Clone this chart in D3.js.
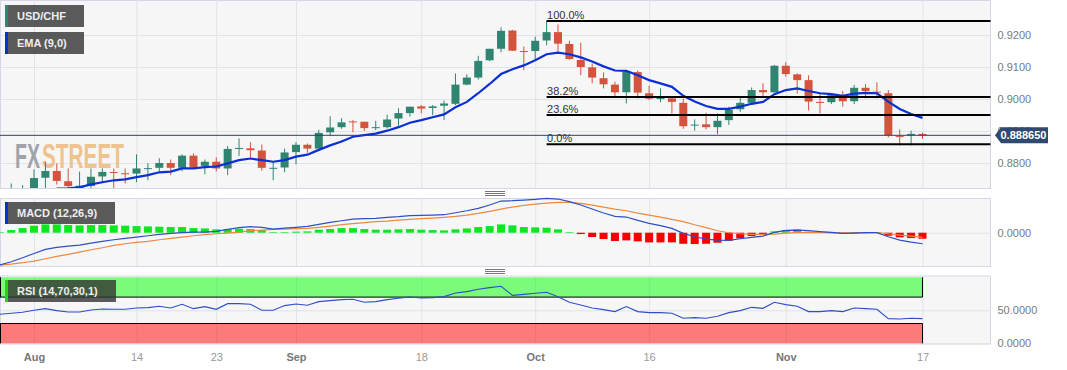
<!DOCTYPE html>
<html>
<head>
<meta charset="utf-8">
<script src="https://cdn.jsdelivr.net/npm/d3@7"></script>
<style>
body{margin:0;background:#fff;}
text{font-family:"Liberation Sans",Arial,sans-serif;}
</style>
</head>
<body>
<svg id="chart" width="1067" height="370"></svg>
<script>
// bar index 0 is the first August session, candles start 2 bars before that
const candleStart = -2;
const opens = [.8700,.8705,.8710,.8754,.8775,.8743,.8715,.8728,.8758,.8772,.8768,.8767,.8781,.8785,.8800,.8785,.8823,.8791,.8804,.8783,.8844,.8846,.8839,.8782,.8786,.8834,.8857,.8845,.8896,.8912,.8930,.8929,.8909,.8912,.8939,.8956,.8977,.8972,.8979,.8985,.9045,.9067,.9121,.9157,.9214,.9150,.9150,.9183,.9209,.9172,.9122,.9099,.9065,.9045,.9021,.9084,.9018,.9000,.9002,.8988,.8917,.8921,.8912,.8934,.8968,.8988,.9028,.9021,.9104,.9077,.9059,.8991,.8990,.9012,.8993,.9035,.9023,.9018,.8884,.8887,.8891];
const highs = [.8736,.8731,.8780,.8804,.8799,.8783,.8773,.8783,.8783,.8783,.8783,.8827,.8799,.8815,.8811,.8827,.8830,.8811,.8818,.8853,.8877,.8865,.8858,.8806,.8845,.8865,.8861,.8904,.8946,.8940,.8934,.8929,.8932,.8951,.8971,.8976,.8981,.8981,.8995,.9080,.9077,.9135,.9157,.9224,.9216,.9164,.9195,.9244,.9233,.9182,.9176,.9111,.9083,.9054,.9089,.9089,.9042,.9033,.9007,.9002,.8936,.8957,.8955,.8976,.9004,.9036,.9049,.9106,.9115,.9080,.9074,.9016,.9016,.9025,.9044,.9047,.9052,.9028,.8905,.8901,.8895];
const lows = [.8690,.8695,.8700,.8715,.8733,.8716,.8710,.8716,.8740,.8716,.8736,.8740,.8746,.8774,.8762,.8774,.8783,.8765,.8774,.8762,.8822,.8818,.8776,.8746,.8771,.8796,.8832,.8841,.8884,.8907,.8896,.8900,.8903,.8908,.8916,.8945,.8955,.8949,.8934,.8981,.9043,.9061,.9118,.9146,.9150,.9090,.9119,.9168,.9148,.9122,.9074,.9049,.9033,.9005,.8986,.9002,.8997,.8990,.8955,.8907,.8901,.8905,.8890,.8919,.8960,.8986,.9009,.9020,.9070,.9017,.8964,.8955,.8984,.8976,.8984,.9002,.9002,.8880,.8854,.8855,.8875];
const closes = [.8715,.8718,.8753,.8775,.8744,.8728,.8729,.8757,.8772,.8769,.8765,.8783,.8784,.8800,.8785,.8823,.8786,.8804,.8783,.8844,.8847,.8840,.8785,.8785,.8833,.8857,.8845,.8894,.8911,.8927,.8927,.8909,.8912,.8936,.8956,.8976,.8970,.8977,.8986,.9045,.9067,.9119,.9157,.9213,.9151,.9147,.9182,.9209,.9173,.9125,.9100,.9067,.9046,.9021,.9085,.9020,.9001,.9003,.8991,.8915,.8920,.8912,.8932,.8966,.8988,.9028,.9021,.9104,.9078,.9059,.8992,.8988,.9012,.8993,.9035,.9025,.9020,.8887,.8882,.8891,.8887];

const emaStart = 2;
const ema = [.8720,.8721,.8724,.8733,.8740,.8746,.8749,.8756,.8762,.8771,.8773,.8783,.8783,.8787,.8789,.8799,.8809,.8814,.8809,.8804,.8809,.8820,.8826,.8841,.8855,.8867,.8882,.8887,.8892,.8901,.8912,.8926,.8934,.8943,.8952,.8974,.8991,.9018,.9047,.9078,.9093,.9105,.9121,.9140,.9145,.9140,.9130,.9117,.9102,.9089,.9088,.9074,.9059,.9049,.9038,.9010,.8992,.8978,.8969,.8969,.8976,.8985,.8991,.9015,.9028,.9033,.9025,.9018,.9015,.9010,.9017,.9019,.9018,.8992,.8969,.8953,.8941];

const fibLevels = [1, .382, .236, 0];
const fibLabels = ["100.0%", "38.2%", "23.6%", "0.0%"];
const fibHigh = .9244, fibLow = .8859, fibStartBar = 45;
const lastPrice = .88865;

// macd panel and rsi panel start one bar earlier than the candles
const indicatorStart = -3;
const macd = [-.00404,-.00363,-.00313,-.00259,-.00208,-.00183,-.00167,-.00154,-.00129,-.00108,-.00088,-.00071,-.00054,-.00038,-.00021,-.00008,0,.00008,.00008,.00017,.00042,.00063,.00075,.00067,.00046,.00058,.00067,.00079,.00104,.00129,.00150,.00171,.00175,.00179,.00192,.00200,.00213,.00217,.00221,.00225,.00250,.00275,.00304,.00346,.00396,.00400,.00408,.00417,.00429,.00421,.00388,.00346,.00296,.00246,.00204,.00196,.00154,.00117,.00088,.00054,-.00008,-.00050,-.00079,-.00092,-.00096,-.00075,-.00058,-.00042,.00004,.00029,.00033,.00025,.00013,.00004,-.00008,-.00004,0,0,-.00050,-.00092,-.00117,-.00138];
const signal = [-.00404,-.00392,-.00375,-.00354,-.00325,-.00296,-.00271,-.00242,-.00213,-.00188,-.00158,-.00138,-.00121,-.00108,-.00088,-.00071,-.00054,-.00038,-.00025,-.00013,-.00004,.00008,.00025,.00033,.00042,.00046,.00050,.00054,.00067,.00083,.00100,.00113,.00125,.00138,.00146,.00158,.00167,.00175,.00183,.00192,.00204,.00221,.00242,.00267,.00296,.00321,.00342,.00358,.00371,.00379,.00379,.00367,.00346,.00321,.00296,.00275,.00246,.00221,.00196,.00167,.00138,.00100,.00063,.00025,0,-.00013,-.00021,-.00021,-.00017,-.00004,0,0,0,0,-.00004,0,0,0,-.00013,-.00029,-.00042,-.00058];
const hist = [.00004,.00033,.00058,.00088,.00104,.00104,.00096,.00092,.00096,.00096,.00092,.00088,.00083,.00079,.00075,.00071,.00071,.00058,.00054,.00042,.00046,.00050,.00046,.00033,.00008,.00008,.00013,.00017,.00038,.00046,.00058,.00058,.00046,.00038,.00038,.00042,.00046,.00038,.00033,.00029,.00042,.00054,.00071,.00083,.00104,.00092,.00071,.00067,.00063,.00042,.00008,-.00017,-.00054,-.00079,-.00104,-.00096,-.00108,-.00121,-.00121,-.00121,-.00138,-.00142,-.00138,-.00125,-.00100,-.00071,-.00042,-.00029,.00017,.00033,.00042,.00013,.00004,0,-.00013,-.00004,0,.00004,-.00038,-.00058,-.00067,-.00075];
const rsi = [43.9,45.5,47,50,52.5,49.5,47.5,47.5,50.5,52,51.5,51.5,53.5,54,56.1,53.5,59.1,52.5,55.6,51.5,60.1,60.1,59.1,50,50,57.1,59.6,57.6,63.1,64.6,66.2,66.7,62.1,63.1,66.2,68.2,70.2,68.7,69.2,70.7,76.3,78.3,81.8,84.3,86.4,72.7,74.2,75.8,77.3,70.7,62.1,58.1,53.5,51,48,55.6,48,46.5,46.5,45.5,37.9,38.9,37.9,40.9,46.5,49.5,54.5,53,62.1,58.6,56.1,48,48,49.5,48,53.5,52.5,51.5,37.4,36.9,37.9,37.4];

const xTickBars = [0, 9, 16, 23, 34, 44, 54, 66, 78];
const xTickLabels = ["Aug", "14", "23", "Sep", "18", "Oct", "16", "Nov", "17"];
const priceTicks = [.88, .89, .90, .91, .92];
const lastBar = 78;

const upColor = "#2f8570", downColor = "#d4533c";
const panelRight = 990.5;

var svg = d3.select("#chart");
var x = d3.scaleLinear().domain([0, lastBar]).range([34, 922.5]);
var yPrice = d3.scaleLinear().domain([.87219, .93094]).range([188, 0]);
var yMacd = d3.scaleLinear().domain([-.00416, .00434]).range([266, 198]);
var yRsi = d3.scaleLinear().domain([0, 100]).range([343.3, 277.3]);

//panel background + grid
function addPanel(id, top, bottom, yScale, yTicks, fmt){
    let g = svg.append("g").attr("class", id);
    g.append("rect")
        .attr("x", .5).attr("y", top + .5).attr("width", panelRight - .5).attr("height", bottom - top)
        .attr("fill", "#f6f6f7").attr("stroke", "#d4d7e4");
    let xGrid = d3.axisBottom(x).tickValues(xTickBars).tickSize(bottom - top).tickFormat("");
    g.append("g").attr("transform", "translate(0," + top + ")").call(xGrid)
        .call(s => s.select(".domain").remove())
        .selectAll("line").attr("stroke", "#e2e3e8");
    let yGrid = d3.axisLeft(yScale).tickValues(yTicks).tickSize(-(panelRight - 1)).tickFormat("");
    g.append("g").attr("transform", "translate(1,0)").call(yGrid)
        .call(s => s.select(".domain").remove())
        .selectAll("line").attr("stroke", "#e2e3e8");
    let yAxis = d3.axisRight(yScale).tickValues(yTicks).tickSize(0).tickPadding(7).tickFormat(fmt);
    g.append("g").attr("transform", "translate(" + panelRight + ",0)").call(yAxis)
        .call(s => s.select(".domain").remove())
        .selectAll("text").attr("fill", "#7a7a7a").style("font-size", "11px").style("font-family", "'Liberation Sans'");
    return g;
}
addPanel("mainPanel", 0, 188, yPrice, priceTicks, d3.format(".4f"));
addPanel("macdPanel", 198, 266, yMacd, [0], d3.format(".4f"));
addPanel("rsiPanel", 275.5, 343.5, yRsi, [0, 50], d3.format(".4f"));

svg.append("clipPath").attr("id", "mainClip").append("rect")
    .attr("x", 1).attr("y", 1).attr("width", panelRight - 1).attr("height", 187);

//watermark, squeezed to its width with a scale so the boxes stay apart
var mark = svg.append("g").attr("font-family", "'Liberation Sans Narrow','Liberation Sans'")
    .attr("font-weight", "700").attr("font-size", 35).attr("opacity", .92);
function addMark(label, left, width, color){
    let t = mark.append("text").attr("fill", color).text(label);
    let k = width / t.node().getComputedTextLength();
    t.attr("transform", "translate(" + left + ",168) scale(" + k + ",1)");
}
addMark("FX", 15, 25, "#9a9ca6");
addMark("STREET", 42, 82, "#eebf85");

//candles
var candleData = opens.map((o, i) => ({bar: i + candleStart, o: o, h: highs[i], l: lows[i], c: closes[i]}));
var candles = svg.append("g").attr("clip-path", "url(#mainClip)");
var candle = candles.selectAll("g").data(candleData).enter().append("g");
candle.append("line")
    .attr("x1", d => x(d.bar)).attr("x2", d => x(d.bar))
    .attr("y1", d => yPrice(d.h)).attr("y2", d => yPrice(d.l))
    .attr("stroke", d => d.c >= d.o ? upColor : downColor);
candle.append("rect")
    .attr("x", d => x(d.bar) - 4).attr("width", 8)
    .attr("y", d => yPrice(Math.max(d.o, d.c)))
    .attr("height", d => Math.max(1, Math.abs(yPrice(d.o) - yPrice(d.c))))
    .attr("fill", d => d.c >= d.o ? upColor : downColor);

//ema
var emaLine = d3.line().x((d, i) => x(i + emaStart)).y(d => yPrice(d));
candles.append("path").attr("d", emaLine(ema))
    .attr("fill", "none").attr("stroke", "#0b2fd6").attr("stroke-width", 2.2);

//last price line
svg.append("line")
    .attr("x1", 0).attr("x2", panelRight)
    .attr("y1", yPrice(lastPrice)).attr("y2", yPrice(lastPrice))
    .attr("stroke", "#2b3f63").attr("stroke-width", 1);

//fibonacci levels
var fibY = d => yPrice(fibLow + d * (fibHigh - fibLow));
svg.selectAll(".fib").data(fibLevels).enter().append("line").attr("class", "fib")
    .attr("x1", x(fibStartBar)).attr("x2", panelRight)
    .attr("y1", fibY).attr("y2", fibY)
    .attr("stroke", "#000").attr("stroke-width", 2);
svg.selectAll(".fibText").data(fibLevels).enter().append("text").attr("class", "fibText")
    .attr("x", x(fibStartBar) + .5).attr("y", d => fibY(d) - 2.2)
    .attr("font-size", 11).attr("fill", "#333")
    .text((d, i) => fibLabels[i]);

//price tag
var tagY = yPrice(lastPrice);
svg.append("path")
    .attr("d", "M995," + tagY + "L1001," + (tagY - 8) + "H1048V" + (tagY + 8) + "H1001Z")
    .attr("fill", "#2f4a6e");
svg.append("text").attr("x", 1000.5).attr("y", tagY + 4)
    .attr("font-size", 11).attr("font-weight", "700").attr("fill", "#fff")
    .text(d3.format(".6f")(lastPrice));

//macd, bars under the two lines
var indLine = scale => d3.line().x((d, i) => x(i + indicatorStart)).y(d => scale(d));
svg.selectAll(".hist").data(hist).enter().append("rect").attr("class", "hist")
    .attr("x", (d, i) => x(i + indicatorStart) - 4).attr("width", 8)
    .attr("y", d => Math.min(yMacd(d), yMacd(0)))
    .attr("height", d => Math.max(.6, Math.abs(yMacd(d) - yMacd(0))))
    .attr("fill", d => d >= 0 ? "#0be81f" : "#f70000");
svg.append("path").attr("d", indLine(yMacd)(signal))
    .attr("fill", "none").attr("stroke", "#f0883e").attr("stroke-width", 1.2);
svg.append("path").attr("d", indLine(yMacd)(macd))
    .attr("fill", "none").attr("stroke", "#2f4fc4").attr("stroke-width", 1.2);

//rsi bands + line
svg.append("rect").attr("x", 0).attr("width", x(lastBar))
    .attr("y", yRsi(100)).attr("height", yRsi(70) - yRsi(100))
    .attr("fill", "#00ff00").attr("fill-opacity", .5);
svg.append("rect").attr("x", 0).attr("width", x(lastBar))
    .attr("y", yRsi(30)).attr("height", yRsi(0) - yRsi(30))
    .attr("fill", "#ff0000").attr("fill-opacity", .5);
[[100, 70], [30, 0]].forEach(b => {
    svg.append("path")
        .attr("d", "M.5," + yRsi(b[0]) + "V" + yRsi(b[1]))
        .attr("stroke", "#000").attr("fill", "none");
    svg.append("path")
        .attr("d", "M" + x(lastBar) + "," + yRsi(b[0]) + "V" + yRsi(b[1]))
        .attr("stroke", "#000").attr("fill", "none");
});
[70, 30].forEach(v => {
    svg.append("line").attr("x1", 0).attr("x2", x(lastBar))
        .attr("y1", yRsi(v)).attr("y2", yRsi(v)).attr("stroke", "#000");
});
svg.append("path").attr("d", indLine(yRsi)(rsi))
    .attr("fill", "none").attr("stroke", "#2f4fc4").attr("stroke-width", 1.1);

//x axis labels
var xAxis = d3.axisBottom(x).tickValues(xTickBars).tickSize(0).tickFormat((d, i) => xTickLabels[i]);
svg.append("g").attr("transform", "translate(0,350)").call(xAxis)
    .call(s => s.select(".domain").remove())
    .selectAll("text")
    .attr("y", 11).attr("dy", 0)
    .attr("fill", (d, i) => isNaN(+xTickLabels[i]) ? "#777" : "#999")
    .style("font-size", "11px")
    .style("font-family", "'Liberation Sans'")
    .style("font-weight", (d, i) => isNaN(+xTickLabels[i]) ? "700" : "400");

//resize handles between panels
[191.5, 269.5].forEach(y0 => {
    [0, 2, 4].forEach(dy => {
        svg.append("line").attr("x1", 485).attr("x2", 505)
            .attr("y1", y0 + dy).attr("y2", y0 + dy).attr("stroke", "#777");
    });
});

//legend boxes
function addLegend(label, left, top, width, color){
    svg.append("rect").attr("x", left).attr("y", top).attr("width", width).attr("height", 22)
        .attr("fill", "#333").attr("fill-opacity", .8);
    svg.append("rect").attr("x", left).attr("y", top).attr("width", 3).attr("height", 22)
        .attr("fill", color);
    svg.append("text").attr("x", left + 12).attr("y", top + 15)
        .attr("font-size", 11).attr("font-weight", "700").attr("fill", "#eee").text(label);
}
addLegend("USD/CHF", 5, 5, 79, upColor);
addLegend("EMA (9,0)", 5, 32, 79, "#0b2fd6");
addLegend("MACD (12,26,9)", 5, 202, 110, "#0b2fd6");
addLegend("RSI (14,70,30,1)", 5, 280, 111, "#10e010");
</script>
</body>
</html>
